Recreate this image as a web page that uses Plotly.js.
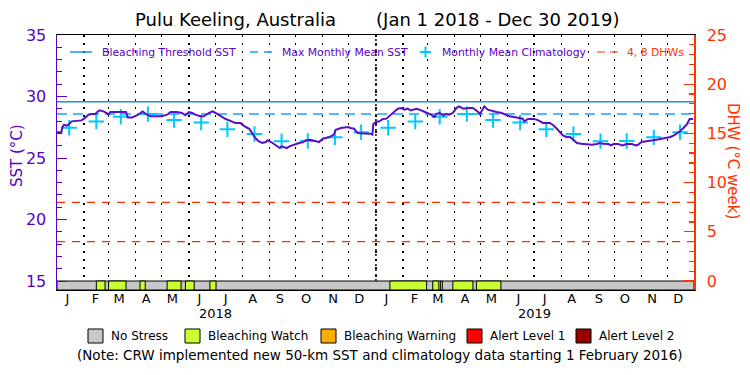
<!DOCTYPE html>
<html><head><meta charset="utf-8">
<script src="https://cdn.plot.ly/plotly-3.0.1.min.js"></script>
<style>html,body{margin:0;padding:0;background:#fff}#chart{width:750px;height:375px}</style>
</head><body><div id="chart"></div>
<script>
// ---- data ----
const sstDates = ['2018-01-01','2018-01-06','2018-01-07','2018-01-09','2018-01-12','2018-01-14','2018-01-18','2018-01-24','2018-01-29','2018-02-01','2018-02-04','2018-02-06','2018-02-10','2018-02-14','2018-02-16','2018-02-19','2018-02-23','2018-02-27','2018-03-01','2018-03-03','2018-03-09','2018-03-18','2018-03-21','2018-03-23','2018-03-28','2018-04-04','2018-04-09','2018-04-14','2018-04-18','2018-04-24','2018-05-01','2018-05-07','2018-05-11','2018-05-18','2018-05-24','2018-05-28','2018-06-01','2018-06-05','2018-06-08','2018-06-14','2018-06-18','2018-06-24','2018-06-28','2018-07-01','2018-07-05','2018-07-09','2018-07-13','2018-07-17','2018-07-21','2018-07-24','2018-07-30','2018-08-01','2018-08-05','2018-08-09','2018-08-11','2018-08-13','2018-08-16','2018-08-20','2018-08-24','2018-08-28','2018-08-30','2018-09-03','2018-09-06','2018-09-10','2018-09-13','2018-09-15','2018-09-18','2018-09-21','2018-09-24','2018-09-29','2018-10-05','2018-10-09','2018-10-13','2018-10-18','2018-10-24','2018-10-28','2018-11-01','2018-11-08','2018-11-14','2018-11-16','2018-11-22','2018-11-30','2018-12-03','2018-12-07','2018-12-11','2018-12-17','2018-12-23','2018-12-26','2018-12-28','2018-12-29','2018-12-31','2019-01-01','2019-01-05','2019-01-09','2019-01-13','2019-01-16','2019-01-20','2019-01-26','2019-01-30','2019-02-03','2019-02-06','2019-02-10','2019-02-16','2019-02-20','2019-02-26','2019-03-01','2019-03-05','2019-03-09','2019-03-11','2019-03-15','2019-03-19','2019-03-22','2019-03-26','2019-03-30','2019-04-03','2019-04-06','2019-04-11','2019-04-16','2019-04-22','2019-04-28','2019-04-30','2019-05-04','2019-05-05','2019-05-09','2019-05-15','2019-05-19','2019-05-25','2019-05-30','2019-06-03','2019-06-11','2019-06-18','2019-06-20','2019-06-24','2019-06-30','2019-07-04','2019-07-08','2019-07-11','2019-07-19','2019-07-23','2019-07-27','2019-07-30','2019-08-03','2019-08-07','2019-08-11','2019-08-15','2019-08-19','2019-08-24','2019-08-30','2019-09-05','2019-09-11','2019-09-14','2019-09-18','2019-09-24','2019-09-27','2019-09-30','2019-10-05','2019-10-10','2019-10-15','2019-10-21','2019-10-25','2019-10-28','2019-11-01','2019-11-07','2019-11-13','2019-11-18','2019-11-24','2019-11-30','2019-12-04','2019-12-08','2019-12-11','2019-12-15','2019-12-19','2019-12-23','2019-12-26','2019-12-30'];
const sstValues = [27.09,27.09,27.49,27.71,27.63,27.71,27.98,28.03,28.06,28.20,28.39,28.52,28.58,28.58,28.74,28.87,28.79,28.66,28.52,28.74,28.74,28.74,28.74,28.30,28.30,28.52,28.79,28.52,28.39,28.39,28.39,28.52,28.74,28.74,28.66,28.47,28.74,28.66,28.52,28.39,28.39,28.66,28.79,28.68,28.52,28.30,28.17,28.06,27.93,27.85,27.85,27.71,27.52,27.38,27.17,26.90,26.62,26.35,26.22,26.30,26.44,26.30,26.14,25.95,25.81,25.95,25.87,25.81,25.95,26.08,26.22,26.27,26.44,26.49,26.41,26.30,26.57,26.68,26.90,27.30,27.44,27.52,27.44,27.38,27.03,26.98,26.98,26.98,26.90,27.76,27.90,27.93,27.98,28.17,28.20,28.39,28.66,29.01,29.06,28.93,29.01,28.87,29.01,28.93,28.74,28.66,28.52,28.33,28.58,28.66,28.47,28.58,28.52,28.66,29.06,29.20,29.01,29.06,29.06,28.74,28.58,29.06,29.20,28.93,28.79,28.74,28.66,28.52,28.39,28.30,28.20,27.98,28.17,28.17,28.12,27.98,27.85,27.85,27.66,27.38,27.11,26.84,26.71,26.71,26.49,26.22,26.16,26.14,26.08,26.14,26.22,26.16,26.14,26.03,26.14,26.14,26.03,26.14,26.14,26.03,26.08,26.30,26.35,26.44,26.49,26.57,26.62,26.71,26.84,26.98,27.17,27.44,27.76,28.17,28.17];

const years = ['2018', '2019'];
const climMonthDays = ['01-15','02-15','03-15','04-15','05-15','06-15','07-15','08-15','09-15','10-15','11-15','12-15'];
const climValues = [27.46, 27.96, 28.35, 28.57, 28.08, 27.88, 27.33, 26.95, 26.37, 26.38, 26.68, 27.09];
const mmmValue = 28.58;
const thresholdValue = 29.58;
const dhwLevels = [4, 8];

const monthLetters = ['J','F','M','A','M','J','J','A','S','O','N','D'];
const monthLabelDays = ['01-13','02-14','03-13','04-13','05-13','06-13','07-13','08-13','09-13','10-13','11-13','12-13'];
const yearLabelDates = ['2018-07-01', '2019-07-02'];

const periodStart = '2018-01-01';
const periodEnd = '2019-12-31';
const watchStart = ['2018-02-15','2018-03-01','2018-04-06','2018-05-07','2018-05-28','2018-06-25','2019-01-17','2019-03-07','2019-03-16','2019-03-30','2019-04-26'];
const watchEnd   = ['2018-02-25','2018-03-21','2018-04-12','2018-05-23','2018-06-07','2018-07-02','2019-02-28','2019-03-14','2019-03-18','2019-04-22','2019-05-24'];

const seriesNames = ['Bleaching Threshold SST', 'Max Monthly Mean SST', 'Monthly Mean Climatology', '4, 8 DHWs'];
const stressNames = ['No Stress','Bleaching Watch','Bleaching Warning','Alert Level 1','Alert Level 2'];
const stressColors = ['#c8c8c8','#ccff33','#ffaa00','#ff0000','#990000'];

// ---- styles ----
const PURPLE = '#5a00c8';
const SSTLINE = '#5a0fc8';
const RED = '#ff3300';
const THR = '#1e8cf0', MMMC = '#1ea0ff', CLIM = '#00c8ff', DHWC = '#ff2a00';
const FONT = 'DejaVu Sans';
const yMin = 14.27, yMax = 35;

const ms = d => Date.parse(d);
const traces = [];

// stress bar
traces.push({
  type: 'bar', x: [periodStart], y: [15 - yMin], base: yMin,
  width: [ms(periodEnd) - ms(periodStart)], offset: 0,
  marker: {color: stressColors[0], line: {color: 'black', width: 1}},
  showlegend: false, hoverinfo: 'skip'
});
traces.push({
  type: 'bar', x: watchStart, y: watchStart.map(() => 15 - yMin), base: yMin,
  width: watchStart.map((s, i) => ms(watchEnd[i]) - ms(s)), offset: 0,
  marker: {color: stressColors[1], line: {color: 'black', width: 1}},
  showlegend: false, hoverinfo: 'skip'
});

traces.push({type:'scatter', mode:'lines', name:seriesNames[0],
  x:[periodStart, periodEnd], y:[thresholdValue, thresholdValue],
  line:{color:THR, width:1.5}, hoverinfo:'skip'});
traces.push({type:'scatter', mode:'lines', name:seriesNames[1],
  x:[periodStart, periodEnd], y:[mmmValue, mmmValue],
  line:{color:MMMC, width:1.5, dash:'10px,6px'}, hoverinfo:'skip'});
const climX = [], climY = [];
years.forEach(yr => climMonthDays.forEach((md, i) => { climX.push(yr + '-' + md); climY.push(climValues[i]); }));
traces.push({type:'scatter', mode:'markers', name:seriesNames[2],
  x: climX, y: climY,
  marker:{symbol:'cross-thin', size:11, color:CLIM, line:{color:CLIM, width:2}}, hoverinfo:'skip'});
const dhwX = [], dhwY = [];
dhwLevels.forEach(v => { dhwX.push(periodStart, periodEnd, null); dhwY.push(v, v, null); });
traces.push({type:'scatter', mode:'lines', name:seriesNames[3],
  x: dhwX, y: dhwY, yaxis:'y2', connectgaps:false,
  line:{color:DHWC, width:1.2, dash:'8px,7px'}, hoverinfo:'skip'});

// SST
traces.push({type:'scatter', mode:'lines', name:'SST', x: sstDates, y: sstValues,
  line:{color:SSTLINE, width:2}, hoverinfo:'skip'});

const tickvals = [], ticktext = [];
years.forEach(yr => monthLabelDays.forEach((md, i) => { tickvals.push(yr + '-' + md); ticktext.push(monthLetters[i]); }));

const px2x = px => (px - 57) / 637;
const px2y = py => (290 - py) / 255;
const ann = (o) => Object.assign({xref:'paper', yref:'paper', xanchor:'center', yanchor:'middle', showarrow:false}, o);

const annotations = [
  ann({text:'SST (°C)', textangle:-90, x:px2x(17), y:px2y(156), font:{family:FONT, size:15, color:PURPLE}}),
  ann({text:'DHW (°C week)', textangle:90, x:px2x(733), y:px2y(161), font:{family:FONT, size:15, color:RED}}),
  ann({text:'(Note: CRW implemented new 50-km SST and climatology data starting 1 February 2016)', x:px2x(380), y:px2y(355), font:{family:FONT, size:13.5, color:'black'}})
];
years.forEach((yr, i) => annotations.push(ann({text: yr, x: yearLabelDates[i], xref:'x', y: px2y(313), font:{family:FONT, size:13, color:'black'}})));

const shapes = [];
// stress legend (bottom)
const boxLeft = [88, 185, 321, 467, 576];
stressNames.forEach((nm, i) => {
  shapes.push({type:'rect', xref:'paper', yref:'paper', x0:px2x(boxLeft[i]), x1:px2x(boxLeft[i] + 15), y0:px2y(329), y1:px2y(343),
    fillcolor: stressColors[i], line:{color:'black', width:1}});
  annotations.push(ann({text:nm, x:px2x(boxLeft[i] + 21), y:px2y(336), xanchor:'left', font:{family:FONT, size:12, color:'black'}}));
});
// series legend (top, inside plot)
const legY = 52;
const legSym = [[70, 92], [250, 272], [420, 431], [597, 618]];
const legText = [100, 280, 440, 625];
const legCol = [PURPLE, PURPLE, PURPLE, RED];
shapes.push({type:'line', xref:'paper', yref:'paper', x0:px2x(legSym[0][0]), x1:px2x(legSym[0][1]), y0:px2y(legY), y1:px2y(legY), line:{color:THR, width:1.5}});
shapes.push({type:'line', xref:'paper', yref:'paper', x0:px2x(legSym[1][0]), x1:px2x(legSym[1][1]), y0:px2y(legY), y1:px2y(legY), line:{color:MMMC, width:1.5, dash:'8px,6px'}});
shapes.push({type:'line', xref:'paper', yref:'paper', x0:px2x(legSym[2][0]), x1:px2x(legSym[2][1]), y0:px2y(legY), y1:px2y(legY), line:{color:CLIM, width:2}});
shapes.push({type:'line', xref:'paper', yref:'paper', x0:px2x((legSym[2][0] + legSym[2][1]) / 2), x1:px2x((legSym[2][0] + legSym[2][1]) / 2), y0:px2y(legY - 5.5), y1:px2y(legY + 5.5), line:{color:CLIM, width:2}});
shapes.push({type:'line', xref:'paper', yref:'paper', x0:px2x(legSym[3][0]), x1:px2x(legSym[3][1]), y0:px2y(legY), y1:px2y(legY), line:{color:DHWC, width:1.2, dash:'8px,5px'}});
seriesNames.forEach((nm, i) => annotations.push(ann({text:nm, x:px2x(legText[i]), y:px2y(legY), xanchor:'left', font:{family:FONT, size:10.8, color:legCol[i]}})));

shapes.push({type:'line', xref:'x', yref:'paper', x0:years[1] + '-01-01', x1:years[1] + '-01-01', y0:px2y(281), y1:1,
  line:{color:'black', width:1.5, dash:'2px,3px'}, layer:'below'});

const layout = {
  width:750, height:375,
  margin:{l:57, r:56, t:35, b:85, autoexpand:false},
  paper_bgcolor:'white', plot_bgcolor:'white',
  font:{family:FONT, color:'black'},
  title:{text:'Pulu Keeling, Australia\u00a0\u00a0\u00a0\u00a0\u00a0\u00a0\u00a0(Jan 1 2018 - Dec 30 2019)', x:0.503, xref:'container', xanchor:'center', y:1-20/375, yref:'container', yanchor:'middle', font:{family:FONT, size:18, color:'black'}},
  barmode:'overlay', bargap:0,
  showlegend:false,
  xaxis:{type:'date', range:[periodStart, periodEnd], tickmode:'array', tickvals:tickvals, ticktext:ticktext, ticks:'',
    tickfont:{family:FONT, size:13, color:'black'}, ticklabelstandoff:-4, showgrid:false, zeroline:false,
    showline:true, linecolor:'black', linewidth:1, mirror:true,
    minor:{tick0:periodStart, dtick:'M1', showgrid:true, gridcolor:'black', gridwidth:1.2, griddash:'2px,6px', ticks:''}},
  yaxis:{range:[yMin, yMax], tick0:15, dtick:5, ticks:'inside', ticklen:10, tickcolor:PURPLE, tickwidth:1,
    tickfont:{family:FONT, size:16, color:PURPLE}, ticklabelstandoff:6,
    showgrid:false, zeroline:false, showline:true, linecolor:PURPLE, linewidth:1.5,
    minor:{tick0:15, dtick:1, ticks:'inside', ticklen:5, tickcolor:PURPLE, showgrid:false}},
  yaxis2:{overlaying:'y', side:'right', range:[-0.915, 25], tick0:0, dtick:5, ticks:'inside', ticklen:10, tickcolor:RED, tickwidth:1.2,
    tickfont:{family:FONT, size:16, color:RED}, ticklabelstandoff:8,
    showgrid:false, zeroline:false, showline:true, linecolor:RED, linewidth:1.5,
    minor:{tick0:0, dtick:1, ticks:'inside', ticklen:5, tickcolor:RED, showgrid:false}},
  annotations: annotations, shapes: shapes
};

Plotly.newPlot('chart', traces, layout, {displayModeBar:false, staticPlot:true});
</script></body></html>
